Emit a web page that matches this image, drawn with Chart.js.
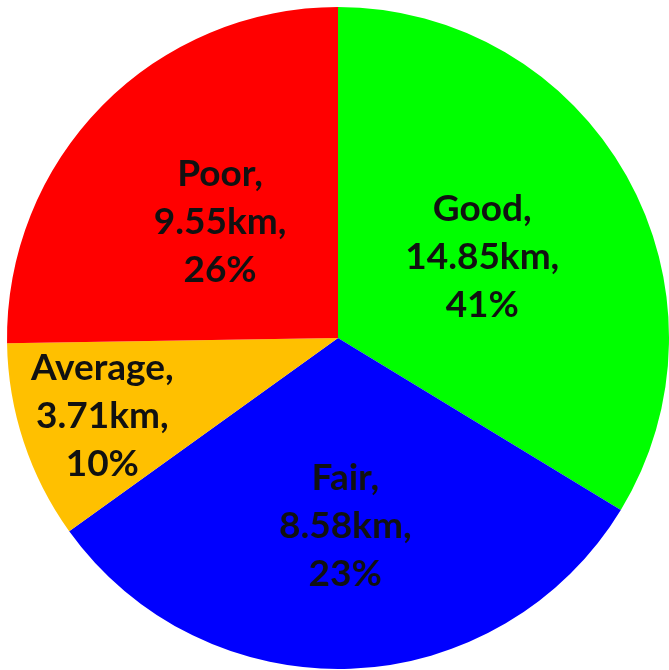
<!DOCTYPE html>
<html>
<head>
<meta charset="utf-8">
<script src="https://cdn.jsdelivr.net/npm/chart.js@4"></script>
<style>
  html, body { margin: 0; padding: 0; background: #fff; }
  #wrap { width: 669px; height: 670px; }
</style>
</head>
<body>
<div id="wrap"><canvas id="pie"></canvas></div>
<script>
const categories = ["Good", "Fair", "Average", "Poor"];
// slice sizes as they are drawn in the picture (degrees of the circle)
const sliceSizes = [121.3, 113.0, 34.8, 90.9];
const lengthsKm = ["14.85", "8.58", "3.71", "9.55"];
const percents = [41, 23, 10, 26];
const colors = ["#00ff00", "#0000ff", "#ffc000", "#ff0000"];

// where each label sits, as a fraction of the radius
const labelRadius = [0.5, 0.57, 0.75, 0.5];

const sliceLabels = {
  id: "sliceLabels",
  afterDatasetsDraw(chart) {
    const ctx = chart.ctx;
    const meta = chart.getDatasetMeta(0);
    ctx.save();
    ctx.font = "bold 37px Lato";
    ctx.fillStyle = "#111";
    ctx.textAlign = "center";
    ctx.textBaseline = "middle";
    meta.data.forEach((arc, i) => {
      const p = arc.getProps(["x", "y", "startAngle", "endAngle", "outerRadius"], true);
      const mid = (p.startAngle + p.endAngle) / 2;
      const cx = p.x + Math.cos(mid) * p.outerRadius * labelRadius[i];
      const cy = p.y + Math.sin(mid) * p.outerRadius * labelRadius[i];
      const lines = [categories[i] + ",", lengthsKm[i] + "km,", percents[i] + "%"];
      lines.forEach((t, j) => {
        ctx.fillText(t, cx, cy + (j - 1) * 48);
      });
    });
    ctx.restore();
  }
};

new Chart(document.getElementById("pie"), {
  type: "pie",
  data: {
    labels: categories,
    datasets: [{
      data: sliceSizes,
      backgroundColor: colors,
      borderWidth: 0
    }]
  },
  options: {
    responsive: true,
    maintainAspectRatio: false,
    animation: false,
    events: [],
    layout: { padding: { left: 7, right: 0, top: 7, bottom: 1 } },
    plugins: {
      legend: { display: false },
      tooltip: { enabled: false }
    }
  },
  plugins: [sliceLabels]
});
</script>
</body>
</html>
